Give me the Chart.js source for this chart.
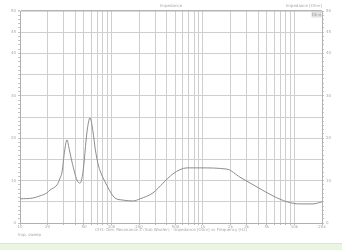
<!DOCTYPE html>
<html>
<head>
<meta charset="utf-8">
<script src="https://cdn.jsdelivr.net/npm/chart.js@4"></script>
<style>
  html, body { margin: 0; padding: 0; background: #fff; }
  #wrap { width: 342px; height: 243px; }
  #strip { width: 342px; height: 6px; background: #e9f5e1; border-top: 1px solid #d5ebc6; }
</style>
</head>
<body>
<div id="wrap"><canvas id="imp-chart" width="342" height="243"></canvas></div>
<div id="strip"></div>
<script>
// impedance sweep
var freqs = [10, 13.9, 16.5, 19.7, 21.3, 25.4, 27.4, 28.8, 30.6, 32.6, 34.7, 37, 42, 45.2, 48.8, 54, 58.2, 62.8, 66.5, 71.2, 76, 80.7, 89.3, 98.8, 109, 134, 172, 205, 284, 366, 470, 668, 927, 1830, 2540, 3890, 5820, 8280, 11480, 15920, 20000];
var impedance = [5.7, 5.9, 6.4, 7.1, 7.8, 9.0, 10.6, 12.0, 16.7, 19.6, 17.2, 14.4, 10.1, 9.4, 12.0, 21.5, 24.8, 21.5, 17.4, 14.0, 12.0, 10.7, 8.8, 7.1, 5.9, 5.4, 5.2, 5.7, 7.1, 9.4, 11.6, 13.0, 13.0, 12.7, 10.8, 8.5, 6.4, 5.0, 4.5, 4.5, 5.0];

// frequency grid lines and the ones that carry a label
var xGrid = [10, 20, 30, 40, 50, 60, 70, 80, 90,
             100, 200, 300, 400, 500, 600, 700, 800, 900,
             1000, 2000, 3000, 4000, 5000, 6000, 7000, 8000, 9000,
             10000, 20000];
var xLabels = [10, 20, 50, 100, 200, 500, 1000, 2000, 3000, 5000, 10000, 20000];
var yLabels = [0, 10, 20, 30, 40, 45, 50];

var titleText = 'Impedance';
var cornerText = 'Impedance [Ohm]';
var xTitle = 'CH1: Dev. Resonance Z (Sub Woofer) - Impedance [Ohm] vs Frequency [Hz]';
var footText = 'Imp. sweep';
var boxText = 'Ohm';

var small = { family: '"DejaVu Sans"', size: 4 };
var textGray = '#a8a8a8';

function fmtFreq(v) {
  if (xLabels.indexOf(v) < 0) return '';
  return v >= 1000 ? (v / 1000) + 'k' : String(v);
}

var notes = {
  id: 'notes',
  afterDraw: function(chart) {
    var ctx = chart.ctx, a = chart.chartArea;
    ctx.save();
    ctx.font = '4px "DejaVu Sans"';
    ctx.fillStyle = textGray;
    ctx.textBaseline = 'middle';
    ctx.textAlign = 'center';
    ctx.fillText(titleText, (a.left + a.right) / 2, 6);
    ctx.textAlign = 'right';
    ctx.fillText(cornerText, a.right, 6);
    ctx.textAlign = 'left';
    ctx.fillText(footText, a.left - 2, 235);
    // little unit box in the top right corner
    ctx.fillStyle = '#f2f2f2';
    ctx.fillRect(a.right - 10, a.top + 1, 9, 5);
    ctx.strokeStyle = '#bbb';
    ctx.lineWidth = 0.5;
    ctx.strokeRect(a.right - 10, a.top + 1, 9, 5);
    ctx.fillStyle = '#888';
    ctx.textAlign = 'center';
    ctx.fillText(boxText, a.right - 5.5, a.top + 3.6);
    ctx.restore();
  }
};

function yGridColor(c) {
  if (c.tick.value === 50) return '#b4b4b4';
  return c.tick.value % 5 === 0 ? '#cfcfcf' : 'rgba(0,0,0,0)';
}

new Chart(document.getElementById('imp-chart'), {
  type: 'line',
  data: {
    datasets: [{
      label: 'Impedance',
      data: freqs.map(function(f, i) { return { x: f, y: impedance[i] }; }),
      borderColor: '#8c8c8c',
      borderWidth: 1,
      pointRadius: 0,
      cubicInterpolationMode: 'monotone',
      fill: false
    }]
  },
  plugins: [notes],
  options: {
    responsive: false,
    animation: false,
    devicePixelRatio: 1,
    layout: { padding: { top: 11, left: 0, right: 0, bottom: 0 } },
    plugins: { legend: { display: false }, title: { display: false }, tooltip: { enabled: false } },
    scales: {
      x: {
        type: 'logarithmic',
        min: 10,
        max: 20000,
        afterBuildTicks: function(s) { s.ticks = xGrid.map(function(v) { return { value: v }; }); },
        afterFit: function(s) { s.height = 20; },
        grid: { color: '#cfcfcf', lineWidth: 1, tickLength: 2, tickColor: '#bbb' },
        border: { color: '#b0b0b0' },
        ticks: {
          autoSkip: false, maxRotation: 0, padding: 0,
          color: textGray, font: small,
          callback: function(v) { return fmtFreq(v); }
        },
        title: { display: true, text: xTitle, color: textGray, font: small, padding: { top: 0, bottom: 11 } }
      },
      y: {
        position: 'left',
        min: 0,
        max: 50,
        afterFit: function(s) { s.width = 20; },
        grid: {
          color: yGridColor,
          lineWidth: function(c) { return c.tick.value === 50 ? 1.5 : 1; },
          tickLength: 2, tickColor: '#c4c4c4'
        },
        border: { color: '#b0b0b0' },
        ticks: {
          stepSize: 1, maxTicksLimit: 100, autoSkip: false, padding: 2,
          color: textGray, font: small,
          callback: function(v) { return yLabels.indexOf(v) >= 0 ? String(v) : ''; }
        }
      },
      y2: {
        position: 'right',
        min: 0,
        max: 50,
        afterFit: function(s) { s.width = 20; },
        grid: { drawOnChartArea: false, tickLength: 2, tickColor: '#c4c4c4' },
        border: { color: '#b0b0b0' },
        ticks: {
          stepSize: 1, maxTicksLimit: 100, autoSkip: false, padding: 2,
          color: textGray, font: small,
          callback: function(v) { return yLabels.indexOf(v) >= 0 ? String(v) : ''; }
        }
      }
    }
  }
});
</script>
</body>
</html>
